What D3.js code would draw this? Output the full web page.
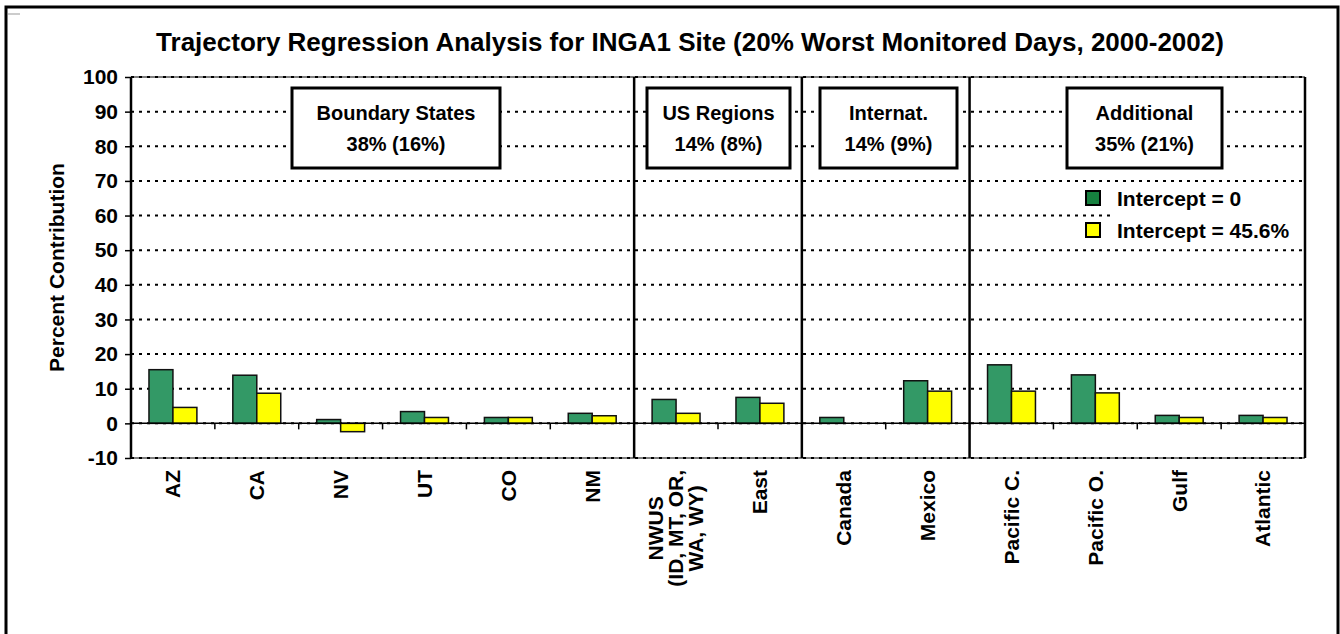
<!DOCTYPE html>
<html>
<head>
  <meta charset="utf-8" />
  <title>Trajectory Regression Analysis</title>
  <style type="text/css">
    body { margin: 0; background: #fff; }
    svg text { font-family: Arial, 'Liberation Sans', sans-serif; font-weight: bold; fill: #000; }
  </style>
</head>
<body>
  <div id="chart"></div>

  <script src="https://cdn.jsdelivr.net/npm/d3@7"></script>
  <script>
  // data
  var categories = ['AZ', 'CA', 'NV', 'UT', 'CO', 'NM', 'NWUS', 'East', 'Canada', 'Mexico',
                    'Pacific C.', 'Pacific O.', 'Gulf', 'Atlantic'];
  var intercept0 = [15.5, 13.9, 1.1, 3.4, 1.7, 2.9, 6.9, 7.5, 1.7, 12.3, 16.9, 14.0, 2.3, 2.3];
  var intercept456 = [4.6, 8.7, -2.4, 1.7, 1.7, 2.2, 2.9, 5.8, 0, 9.3, 9.3, 8.8, 1.7, 1.7];
  var seriesNames = ['Intercept = 0', 'Intercept = 45.6%'];
  var yTicks = [-10, 0, 10, 20, 30, 40, 50, 60, 70, 80, 90, 100];
  var groupNames = ['Boundary States', 'US Regions', 'Internat.', 'Additional'];
  var groupShares = ['38% (16%)', '14% (8%)', '14% (9%)', '35% (21%)'];
  var groupEnds = ['NM', 'East', 'Mexico'];   // separators after these
  var nwusLines = ['NWUS', '(ID, MT, OR,', 'WA, WY)'];

  var W = 1340, H = 634;
  var plot = {left: 131, right: 1305, top: 77, bottom: 458};
  var barColors = ['#339966', '#ffff00'];
  var legendColors = ['#16803f', '#ffff00'];
  // annotation boxes (pixel layout)
  var boxes = [{x: 292, w: 208}, {x: 647, w: 143}, {x: 820, w: 137}, {x: 1067, w: 155}];

  var svg = d3.select('#chart').append('svg').attr('width', W).attr('height', H);

  // outer frame
  svg.append('rect').attr('x', 6).attr('y', 7).attr('width', 1332).attr('height', 640)
    .attr('fill', 'none').attr('stroke', '#000').attr('stroke-width', 3);
  svg.append('line').attr('x1', 8).attr('x2', 20).attr('y1', 14).attr('y2', 14)
    .attr('stroke', '#999').attr('stroke-width', 1);

  svg.append('text').attr('x', 690).attr('y', 51).attr('text-anchor', 'middle')
    .style('font-size', '26px')
    .text('Trajectory Regression Analysis for INGA1 Site (20% Worst Monitored Days, 2000-2002)');

  var y = d3.scaleLinear().domain([-10, 100]).range([plot.bottom, plot.top]);
  var x = d3.scaleBand().domain(categories).range([plot.left, plot.right]);
  var xi = d3.scaleBand().domain([0, 1]).range([0, x.bandwidth()]).paddingOuter(0.75);

  // gridlines (dotted)
  svg.append('g').selectAll('line').data(yTicks).enter().append('line')
    .attr('x1', plot.left).attr('x2', plot.right)
    .attr('y1', function (d) { return y(d); }).attr('y2', function (d) { return y(d); })
    .attr('stroke', '#000').attr('stroke-width', 2).attr('stroke-dasharray', '3,5');

  // top / bottom thin edges
  [plot.top, plot.bottom].forEach(function (yy) {
    svg.append('line').attr('x1', plot.left).attr('x2', plot.right).attr('y1', yy).attr('y2', yy)
      .attr('stroke', '#000').attr('stroke-width', 1);
  });

  // group annotation boxes
  var gb = svg.append('g').selectAll('g').data(boxes).enter().append('g');
  gb.append('rect').attr('x', function (d) { return d.x; }).attr('y', 88)
    .attr('width', function (d) { return d.w; }).attr('height', 80)
    .attr('fill', '#fff').attr('stroke', '#000').attr('stroke-width', 3);
  gb.append('text').attr('x', function (d) { return d.x + d.w / 2; }).attr('y', 120)
    .attr('text-anchor', 'middle').style('font-size', '20px')
    .text(function (d, i) { return groupNames[i]; });
  gb.append('text').attr('x', function (d) { return d.x + d.w / 2; }).attr('y', 151)
    .attr('text-anchor', 'middle').style('font-size', '20px')
    .text(function (d, i) { return groupShares[i]; });

  // bars
  var data = categories.map(function (c, i) { return {cat: c, vals: [intercept0[i], intercept456[i]]}; });
  var cg = svg.append('g').selectAll('g').data(data).enter().append('g')
    .attr('transform', function (d) { return 'translate(' + x(d.cat) + ',0)'; });
  cg.selectAll('rect').data(function (d) { return d.vals; }).enter()
    .filter(function (v) { return v !== 0; })
    .append('rect')
    .attr('x', function (v, j) { return xi(j); })
    .attr('width', xi.bandwidth())
    .attr('y', function (v) { return y(Math.max(v, 0)); })
    .attr('height', function (v) { return Math.abs(y(v) - y(0)); })
    .attr('fill', function (v, j) { return barColors[j]; })
    .attr('stroke', '#111').attr('stroke-width', 1.5);

  // zero line + category ticks
  svg.append('line').attr('x1', plot.left).attr('x2', plot.right).attr('y1', y(0)).attr('y2', y(0))
    .attr('stroke', '#000').attr('stroke-width', 1.5);
  svg.append('g').selectAll('line').data(categories.slice(1)).enter().append('line')
    .attr('x1', function (d) { return x(d); }).attr('x2', function (d) { return x(d); })
    .attr('y1', y(0)).attr('y2', y(0) + 6)
    .attr('stroke', '#000').attr('stroke-width', 1.5);

  // separators
  svg.append('g').selectAll('line').data(groupEnds).enter().append('line')
    .attr('x1', function (d) { return x(d) + x.bandwidth(); })
    .attr('x2', function (d) { return x(d) + x.bandwidth(); })
    .attr('y1', plot.top).attr('y2', plot.bottom)
    .attr('stroke', '#000').attr('stroke-width', 2.5);

  // left / right edges
  [plot.left, plot.right].forEach(function (xx) {
    svg.append('line').attr('x1', xx).attr('x2', xx).attr('y1', plot.top).attr('y2', plot.bottom)
      .attr('stroke', '#000').attr('stroke-width', 2.5);
  });

  // y axis
  var yAxis = svg.append('g').attr('transform', 'translate(' + plot.left + ',0)')
    .call(d3.axisLeft(y).tickValues(yTicks).tickSize(6).tickPadding(7).tickFormat(d3.format('d')));
  yAxis.select('.domain').remove();
  yAxis.selectAll('line').attr('stroke', '#000').attr('stroke-width', 1.5);
  yAxis.selectAll('text').style('font-size', '21px').style('font-family', 'Arial, Liberation Sans, sans-serif')
    .text(function (d) { return String(d); });

  svg.append('text').attr('transform', 'translate(64,' + ((plot.top + plot.bottom) / 2) + ') rotate(-90)')
    .attr('text-anchor', 'middle').style('font-size', '21px').text('Percent Contribution');

  // x labels
  var labelTop = 470;
  svg.append('g').selectAll('text').data(categories.filter(function (c) { return c !== 'NWUS'; }))
    .enter().append('text')
    .attr('transform', function (d) {
      return 'translate(' + (x(d) + x.bandwidth() / 2) + ',' + labelTop + ') rotate(-90)';
    })
    .attr('text-anchor', 'end').attr('dy', '0.35em').style('font-size', '21px')
    .text(function (d) { return d; });

  var nw = svg.append('text').attr('text-anchor', 'middle').style('font-size', '21px');
  nw.selectAll('tspan').data(nwusLines).enter().append('tspan')
    .attr('x', 0).attr('dy', function (d, i) { return i === 0 ? '-0.6em' : '0.95em'; })
    .text(function (d) { return d; });
  var widest = d3.max(nw.selectAll('tspan').nodes(), function (n) { return n.getComputedTextLength(); });
  nw.attr('transform', 'translate(' + (x('NWUS') + x.bandwidth() / 2) + ',' + (labelTop + widest / 2) + ') rotate(-90)');

  // legend
  svg.append('rect').attr('x', 1110).attr('y', 185).attr('width', 192).attr('height', 60).attr('fill', '#fff');
  var lg = svg.append('g').selectAll('g').data(seriesNames).enter().append('g')
    .attr('transform', function (d, i) { return 'translate(1086,' + (191 + i * 32) + ')'; });
  lg.append('rect').attr('width', 14).attr('height', 14)
    .attr('fill', function (d, i) { return legendColors[i]; })
    .attr('stroke', '#000').attr('stroke-width', 2);
  lg.append('text').attr('x', 31).attr('y', 15).style('font-size', '21px').text(function (d) { return d; });
  </script>
</body>
</html>
